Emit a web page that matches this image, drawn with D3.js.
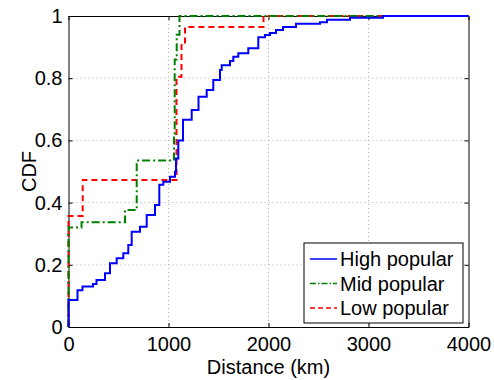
<!DOCTYPE html>
<html>
<head>
<meta charset="utf-8">
<script src="https://cdn.jsdelivr.net/npm/d3@7"></script>
<style>
  body { margin: 0; background: #fff; }
  text { font-family: "Liberation Sans", Arial, sans-serif; }
</style>
</head>
<body>
<div id="chart"></div>
<script>
// step points of each CDF (distance in km, cumulative fraction)
const highDist = [0, 0, 90, 140, 245, 280, 365, 415, 482, 548, 598, 632, 715, 782, 865, 908, 948, 1015, 1065, 1075, 1098, 1145, 1232, 1300, 1382, 1448, 1515, 1532, 1615, 1648, 1698, 1798, 1898, 1965, 2015, 2075, 2145, 2275, 2515, 2585, 2815, 3145, 4000];
const highCdf  = [0, 0.087, 0.118, 0.13, 0.138, 0.151, 0.173, 0.205, 0.221, 0.237, 0.264, 0.306, 0.322, 0.36, 0.392, 0.457, 0.467, 0.483, 0.499, 0.542, 0.6, 0.666, 0.698, 0.74, 0.762, 0.794, 0.826, 0.842, 0.855, 0.869, 0.88, 0.896, 0.932, 0.939, 0.945, 0.955, 0.965, 0.975, 0.98, 0.988, 0.994, 1, 1];

const midDist = [0, 0, 130, 565, 682, 1055, 1062, 1082, 1110, 4000];
const midCdf  = [0, 0.32, 0.337, 0.376, 0.535, 0.62, 0.86, 0.94, 1, 1];

const lowDist = [0, 0, 142, 1080, 1130, 1165, 1950, 4000];
const lowCdf  = [0, 0.357, 0.473, 0.805, 0.91, 0.965, 1, 1];

const seriesNames = ['High popular', 'Mid popular', 'Low popular'];
const xTicks = [0, 1000, 2000, 3000, 4000];
const yTicks = [0, 0.2, 0.4, 0.6, 0.8, 1];

const width = 494, height = 380;
const margin = { top: 16, right: 25.5, bottom: 53, left: 68.5 };
const w = width - margin.left - margin.right;
const h = height - margin.top - margin.bottom;

const svg = d3.select('#chart').append('svg')
  .attr('width', width)
  .attr('height', height);

const g = svg.append('g')
  .attr('transform', 'translate(' + margin.left + ',' + margin.top + ')');

const x = d3.scaleLinear().domain([0, 4000]).range([0, w]);
const y = d3.scaleLinear().domain([0, 1]).range([h, 0]);

// dotted grid
g.append('g').selectAll('line')
  .data(xTicks.slice(1, -1))
  .join('line')
  .attr('x1', d => x(d)).attr('x2', d => x(d))
  .attr('y1', 0).attr('y2', h)
  .attr('stroke', '#b0b0b0').attr('stroke-dasharray', '1,3');
g.append('g').selectAll('line')
  .data(yTicks.slice(1, -1))
  .join('line')
  .attr('x1', 0).attr('x2', w)
  .attr('y1', d => y(d)).attr('y2', d => y(d))
  .attr('stroke', '#b0b0b0').attr('stroke-dasharray', '1,3');

// axes with inward ticks
const fmtY = d => d === 0 || d === 1 ? String(d) : d3.format('.1f')(d);
const xAxis = g.append('g')
  .attr('transform', 'translate(0,' + h + ')')
  .call(d3.axisBottom(x).tickValues(xTicks).tickFormat(d3.format('d')).tickSizeInner(-4).tickSizeOuter(0).tickPadding(10));
const yAxis = g.append('g')
  .call(d3.axisLeft(y).tickValues(yTicks).tickFormat(fmtY).tickSizeInner(-4).tickSizeOuter(0).tickPadding(6));
g.append('g')
  .call(d3.axisTop(x).tickValues(xTicks).tickFormat('').tickSizeInner(-4).tickSizeOuter(0));
g.append('g')
  .attr('transform', 'translate(' + w + ',0)')
  .call(d3.axisRight(y).tickValues(yTicks).tickFormat('').tickSizeInner(-4).tickSizeOuter(0));

g.selectAll('.domain').attr('stroke', '#000');
g.selectAll('.tick line').attr('stroke', '#000');
g.selectAll('.tick text').attr('font-size', 20).attr('fill', '#000')
  .style('font-family', '"Liberation Sans", Arial, sans-serif');
xAxis.selectAll('.tick text').attr('dy', '0.71em');

// CDF curves
const series = [
  { name: seriesNames[0], dist: highDist, cdf: highCdf, color: '#0000ff', dash: null },
  { name: seriesNames[1], dist: midDist, cdf: midCdf, color: '#008000', dash: '8,3,2,3' },
  { name: seriesNames[2], dist: lowDist, cdf: lowCdf, color: '#ff0000', dash: '6,4' }
];

const line = d3.line()
  .x(d => x(d[0]))
  .y(d => y(d[1]))
  .curve(d3.curveStepAfter);

// draw low first so the solid line stays on top
series.slice().reverse().forEach(s => {
  g.append('path')
    .datum(s.dist.map((d, i) => [d, s.cdf[i]]))
    .attr('fill', 'none')
    .attr('stroke', s.color)
    .attr('stroke-width', 2)
    .attr('stroke-dasharray', s.dash)
    .attr('d', line);
});

// legend
const lg = g.append('g').attr('transform', 'translate(' + (304 - margin.left) + ',' + (243 - margin.top) + ')');
lg.append('rect')
  .attr('width', 159).attr('height', 80)
  .attr('fill', '#fff').attr('stroke', '#000');
series.forEach((s, i) => {
  const ly = 16 + i * 24.5;
  lg.append('line')
    .attr('x1', 6).attr('x2', 33)
    .attr('y1', ly).attr('y2', ly)
    .attr('stroke', s.color).attr('stroke-width', 1.5)
    .attr('stroke-dasharray', s.dash ? (i === 1 ? '6,2,1.5,2' : '5,3') : null);
  lg.append('text')
    .attr('x', 36).attr('y', ly)
    .attr('dy', '0.36em')
    .attr('font-size', 20)
    .text(s.name);
});

// axis labels
svg.append('text')
  .attr('x', margin.left + w / 2)
  .attr('y', 374)
  .attr('text-anchor', 'middle')
  .attr('font-size', 20)
  .text('Distance (km)');

svg.append('text')
  .attr('transform', 'rotate(-90)')
  .attr('x', -(margin.top + h / 2))
  .attr('y', 36)
  .attr('text-anchor', 'middle')
  .attr('font-size', 20)
  .text('CDF');
</script>
</body>
</html>
